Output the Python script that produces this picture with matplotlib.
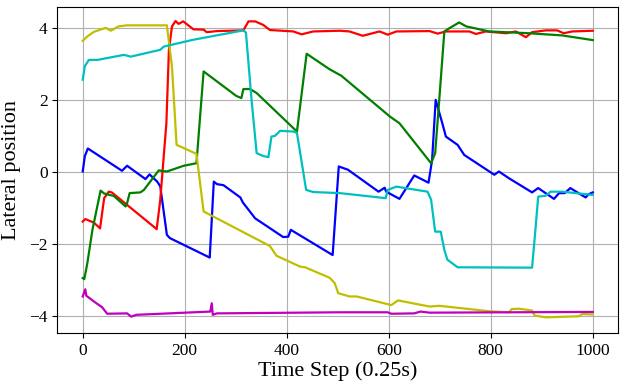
import matplotlib
matplotlib.use("Agg")
import matplotlib.pyplot as plt

# lateral position of six vehicles over time
blue_t = [0, 4, 10, 77, 87, 123, 131, 137, 146, 152, 165, 171, 249, 257, 263, 276, 309, 314,
          338, 393, 403, 408, 490, 502, 520, 580, 592, 595, 621, 650, 678, 685, 692, 705, 712,
          735, 748, 807, 816, 836, 881, 893, 924, 934, 945, 956, 986, 992, 1000]
blue_v = [0.01, 0.43, 0.65, 0.03, 0.17, -0.20, -0.07, -0.15, -0.27, -0.40, -1.75, -1.84, -2.38,
          -0.27, -0.34, -0.37, -0.71, -0.85, -1.29, -1.81, -1.80, -1.61, -2.31, 0.15, 0.06,
          -0.55, -0.44, -0.55, -0.75, -0.10, -0.30, 0.33, 2.0, 1.35, 0.98, 0.75, 0.47, -0.08,
          0.01, -0.18, -0.57, -0.45, -0.75, -0.59, -0.59, -0.45, -0.71, -0.62, -0.57]

red_t = [0, 5, 22, 34, 42, 51, 57, 145, 152, 164, 169, 175, 182, 188, 197, 217, 237, 243, 263,
         315, 325, 338, 354, 367, 413, 429, 452, 504, 523, 549, 582, 598, 615, 680, 696, 712,
         758, 771, 790, 830, 849, 869, 881, 908, 930, 943, 960, 1000]
red_v = [-1.38, -1.31, -1.41, -1.57, -0.73, -0.55, -0.57, -1.59, -0.78, 1.35, 3.39, 4.04, 4.19,
         4.11, 4.18, 3.96, 3.95, 3.88, 3.91, 3.93, 4.18, 4.18, 4.08, 3.94, 3.90, 3.82, 3.90,
         3.92, 3.90, 3.78, 3.90, 3.81, 3.90, 3.91, 3.84, 3.90, 3.90, 3.83, 3.90, 3.85, 3.90,
         3.74, 3.88, 3.93, 3.93, 3.85, 3.90, 3.92]

green_t = [0, 3, 9, 19, 35, 42, 61, 84, 87, 92, 113, 120, 149, 165, 198, 223, 237, 301, 311,
           315, 328, 341, 420, 439, 484, 507, 602, 621, 683, 691, 699, 709, 719, 738, 752, 797,
           875, 940, 1000]
green_v = [-2.95, -2.98, -2.54, -1.61, -0.52, -0.60, -0.67, -0.96, -0.87, -0.59, -0.57, -0.50,
           0.04, 0.01, 0.17, 0.24, 2.79, 2.11, 2.05, 2.30, 2.30, 2.19, 1.12, 3.28, 2.85, 2.67,
           1.54, 1.35, 0.24, 0.52, 2.0, 3.90, 3.99, 4.15, 4.04, 3.90, 3.85, 3.79, 3.66]

yellow_t = [0, 9, 22, 45, 55, 70, 87, 165, 175, 184, 223, 237, 367, 380, 426, 436, 484, 494,
            501, 523, 537, 605, 618, 680, 699, 797, 836, 841, 855, 881, 886, 908, 973, 979, 1000]
yellow_v = [3.64, 3.76, 3.89, 4.00, 3.92, 4.04, 4.07, 4.07, 2.92, 0.75, 0.50, -1.10, -2.06,
            -2.33, -2.63, -2.65, -2.94, -3.09, -3.37, -3.46, -3.46, -3.70, -3.57, -3.74, -3.72,
            -3.87, -3.90, -3.81, -3.80, -3.85, -3.99, -4.04, -4.01, -3.95, -3.96]

cyan_t = [0, 4, 12, 29, 81, 94, 152, 159, 217, 315, 320, 331, 341, 354, 364, 370, 377, 387,
          413, 420, 438, 452, 504, 594, 598, 615, 676, 683, 691, 702, 709, 715, 735, 881, 887,
          893, 908, 917, 940, 1000]
cyan_v = [2.56, 2.93, 3.11, 3.11, 3.25, 3.20, 3.39, 3.48, 3.67, 3.93, 3.87, 2.0, 0.52, 0.44,
          0.41, 0.98, 1.0, 1.14, 1.12, 1.08, -0.50, -0.56, -0.59, -0.73, -0.50, -0.41, -0.55,
          -0.77, -1.66, -1.66, -2.17, -2.44, -2.65, -2.66, -1.70, -0.69, -0.66, -0.55, -0.55,
          -0.64]

magenta_t = [0, 5, 7, 22, 38, 48, 87, 95, 105, 250, 253, 255, 263, 504, 598, 605, 650, 662,
             680, 1000]
magenta_v = [-3.46, -3.26, -3.44, -3.60, -3.76, -3.94, -3.93, -4.02, -3.97, -3.88, -3.65, -3.97,
             -3.93, -3.90, -3.90, -3.94, -3.93, -3.88, -3.91, -3.89]

plt.rcParams['font.family'] = ['Liberation Serif', 'DejaVu Serif']

fig = plt.figure(figsize=(6.22, 3.87), dpi=100)
ax = fig.add_axes([0.092, 0.14, 0.902, 0.842])

lw = 1.6
ax.plot(blue_t, blue_v, color='b', linewidth=lw)
ax.plot(red_t, red_v, color='r', linewidth=lw)
ax.plot(green_t, green_v, color='g', linewidth=lw)
ax.plot(yellow_t, yellow_v, color='y', linewidth=lw)
ax.plot(cyan_t, cyan_v, color='c', linewidth=lw)
ax.plot(magenta_t, magenta_v, color='m', linewidth=lw)

ax.set_xlim(-50, 1050)
ax.set_ylim(-4.47, 4.58)
ax.set_xticks([0, 200, 400, 600, 800, 1000])
ax.set_yticks([-4, -2, 0, 2, 4])
ax.tick_params(labelsize=12.5)
ax.grid(True, color='#b0b0b0', linewidth=0.8)
ax.set_xlabel("Time Step (0.25s)", fontsize=16, labelpad=2)
ax.set_ylabel("Lateral position", fontsize=16, labelpad=6)

fig.savefig("out.png", dpi=100)
